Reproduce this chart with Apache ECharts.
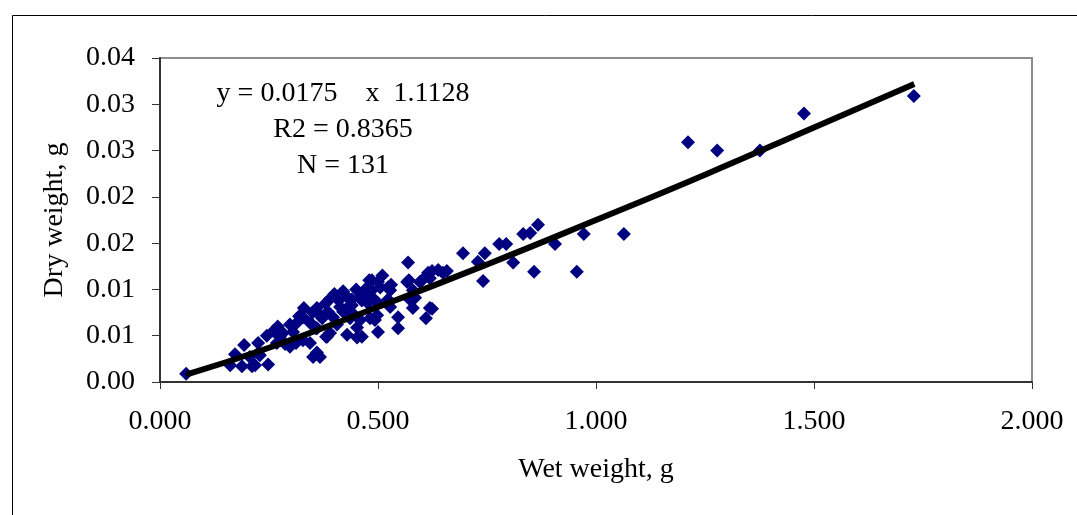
<!DOCTYPE html>
<html><head><meta charset="utf-8">
<script src="https://cdn.jsdelivr.net/npm/echarts@6/dist/echarts.min.js"></script>
<style>html,body{margin:0;padding:0;background:#fff}#c{width:1077px;height:515px}</style>
</head><body><div id="c"></div>
<script>
const wetWeight = [
 1.729,1.477,1.376,1.278,1.211,1.064,0.972,0.956,0.906,0.867,
 0.849,0.833,0.858,0.810,0.794,0.778,0.745,0.695,0.729,0.741,
 0.658,0.638,0.624,0.649,0.615,0.571,0.601,0.619,0.596,0.569,
 0.567,0.528,0.505,0.486,0.486,0.500,0.475,0.523,0.580,0.580,
 0.573,0.585,0.580,0.619,0.610,0.624,0.546,0.546,0.498,0.493,
 0.482,0.500,0.477,0.463,0.459,0.440,0.431,0.420,0.390,0.440,
 0.413,0.429,0.397,0.420,0.385,0.406,0.390,0.383,0.429,0.452,
 0.463,0.452,0.436,0.459,0.523,0.528,0.367,0.344,0.328,0.372,
 0.349,0.314,0.305,0.298,0.282,0.319,0.360,0.344,0.328,0.298,
 0.312,0.287,0.268,0.275,0.245,0.225,0.225,0.229,0.193,0.172,
 0.161,0.188,0.206,0.211,0.218,0.248,0.060,0.351,0.360,0.367,
 0.381,0.358,0.400,0.450,0.470,0.490,0.500,0.350,0.330,0.380,
 0.270,0.260,0.480,0.530,0.510,0.360,0.410,0.440
];
const dryWeight = [
 0.0309,0.0290,0.0250,0.0250,0.0259,0.0160,0.0160,0.0119,0.0149,0.0170,
 0.0161,0.0160,0.0119,0.0129,0.0149,0.0149,0.0139,0.0139,0.0130,0.0109,
 0.0120,0.0121,0.0120,0.0118,0.0118,0.0110,0.0110,0.0112,0.0108,0.0129,
 0.0108,0.0099,0.0102,0.0099,0.0110,0.0108,0.0102,0.0102,0.0093,0.0099,
 0.0089,0.0091,0.0080,0.0080,0.0069,0.0079,0.0070,0.0058,0.0072,0.0067,
 0.0069,0.0054,0.0085,0.0088,0.0092,0.0089,0.0091,0.0098,0.0090,0.0083,
 0.0081,0.0080,0.0070,0.0076,0.0076,0.0062,0.0053,0.0049,0.0051,0.0048,
 0.0049,0.0059,0.0069,0.0067,0.0089,0.0081,0.0072,0.0064,0.0070,0.0069,
 0.0062,0.0064,0.0054,0.0062,0.0053,0.0071,0.0058,0.0042,0.0045,0.0038,
 0.0042,0.0041,0.0042,0.0049,0.0050,0.0042,0.0031,0.0029,0.0040,0.0030,
 0.0018,0.0017,0.0027,0.0017,0.0018,0.0019,0.0009,0.0027,0.0032,0.0027,
 0.0049,0.0058,0.0095,0.0100,0.0095,0.0090,0.0085,0.0075,0.0080,0.0085,
 0.0060,0.0055,0.0110,0.0105,0.0115,0.0080,0.0088,0.0075
];
const trendWet = [0.06, 0.25, 0.5, 0.75, 1.0, 1.25, 1.5, 1.73];
const trendDry = [0.0008, 0.0037, 0.0081, 0.0127, 0.0175, 0.0224, 0.0275, 0.0322];
const yTickLabels = ['0.00','0.01','0.01','0.02','0.02','0.03','0.03','0.04'];
const xTickLabels = ['0.000','0.500','1.000','1.500','2.000'];
const annotationLines = ['y = 0.0175    x  1.1128', 'R2 = 0.8365', 'N = 131'];
const xTitle = 'Wet weight, g';
const yTitle = 'Dry weight, g';

const FONT = '"Liberation Serif","Times New Roman",serif';
const chart = echarts.init(document.getElementById('c'), null, {renderer: 'canvas'});
const annY = [94, 130, 166];
chart.setOption({
  animation: false,
  backgroundColor: '#fff',
  grid: {left: 160, top: 58, width: 872, height: 324, show: true,
         borderColor: '#8c8c8c', borderWidth: 2, backgroundColor: 'transparent'},
  xAxis: {
    type: 'value', min: 0, max: 2, interval: 0.5,
    name: xTitle, nameLocation: 'middle', nameGap: 74,
    nameTextStyle: {fontFamily: FONT, fontSize: 28, color: '#000'},
    axisLine: {show: true, lineStyle: {color: '#333', width: 2}},
    axisTick: {show: true, inside: false, length: 7, lineStyle: {color: '#333', width: 1}},
    axisLabel: {margin: 26, fontFamily: FONT, fontSize: 28, color: '#000',
      formatter: (v) => xTickLabels[Math.round(v / 0.5)]},
    splitLine: {show: false}
  },
  yAxis: {
    type: 'value', min: 0, max: 0.035, interval: 0.005,
    name: yTitle, nameLocation: 'middle', nameGap: 91, nameRotate: 90,
    nameTextStyle: {fontFamily: FONT, fontSize: 28, color: '#000'},
    axisLine: {show: true, lineStyle: {color: '#333', width: 2}},
    axisTick: {show: true, inside: false, length: 8, lineStyle: {color: '#333', width: 1}},
    axisLabel: {margin: 25, fontFamily: FONT, fontSize: 28, color: '#000',
      formatter: (v) => yTickLabels[Math.round(v / 0.005)]},
    splitLine: {show: false}
  },
  series: [
    {
      type: 'scatter', symbol: 'diamond', symbolSize: 14,
      itemStyle: {color: '#000080', opacity: 1},
      data: wetWeight.map((w, i) => [w, dryWeight[i]]),
      z: 2
    },
    {
      type: 'line', showSymbol: false, smooth: true,
      lineStyle: {color: '#000', width: 6},
      data: trendWet.map((w, i) => [w, trendDry[i]]),
      z: 3
    }
  ],
  graphic: [
    {type: 'rect', left: 10, top: 13, shape: {width: 1200, height: 600},
     style: {fill: 'none', stroke: '#000', lineWidth: 1}, silent: true},
    ...annotationLines.map((t, i) => ({
      type: 'text', x: 343, y: annY[i],
      style: {text: t, font: '28px ' + FONT, fill: '#000',
              textAlign: 'center', textVerticalAlign: 'middle'}
    }))
  ]
});
</script>
</body></html>
